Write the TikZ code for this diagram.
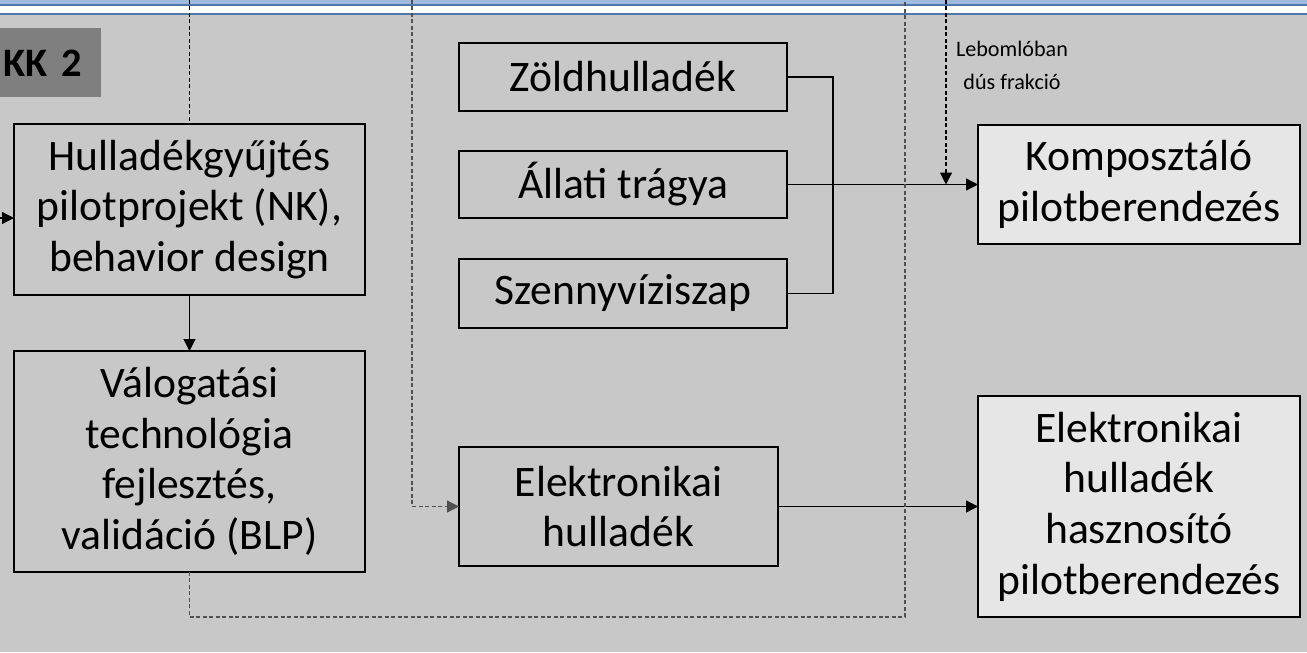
\documentclass[tikz,border=0pt]{standalone}
\usepackage{fontspec}
\setmainfont{Carlito}
\usetikzlibrary{arrows.meta}
\definecolor{bggray}{RGB}{200,200,200}
\definecolor{boxlight}{RGB}{230,230,230}
\definecolor{kkgray}{RGB}{127,127,127}
\definecolor{bandlight}{RGB}{160,186,224}
\definecolor{bandline}{RGB}{79,120,168}
\definecolor{dashgray}{RGB}{80,80,80}

\begin{document}
\begin{tikzpicture}[x=0.02cm,y=-0.02cm,
  box/.style={draw=black,line width=0.8pt,rectangle,inner sep=0pt,outer sep=0pt,align=center,font=\fontsize{24.8}{28.8}\selectfont},
  lightbox/.style={box,fill=boxlight},
  line/.style={line width=0.6pt},
  arr/.style={line width=0.6pt,-{Triangle[length=0.24cm,width=0.24cm]}},
  dashline/.style={line width=0.6pt,dash pattern=on 0.08cm off 0.05cm}]
\useasboundingbox (0,0) rectangle (1307,652);
% background and top band
\fill[bggray] (0,15) rectangle (1307,652);
\fill[bandlight] (0,0) rectangle (1307,4);
\fill[bandline] (0,4) rectangle (1307,6.5);
\fill[white] (0,6.5) rectangle (1307,13);
\fill[bandline] (0,13) rectangle (1307,15.5);
\node[fill=kkgray,anchor=north west,inner xsep=0.06cm,inner ysep=0pt,text width=1.9cm,minimum height=1.38cm,align=left,font=\fontsize{23}{26}\bfseries] (kk) at (0,28) {KK 2};
% left column
\node[box,minimum width=7.02cm,minimum height=3.42cm] (gyujt) at (189.5,209.5) {Hulladékgyűjtés\\pilotprojekt (NK),\\behavior design};
\node[box,minimum width=7.02cm,minimum height=4.42cm] (valog) at (189.5,461.5) {Válogatási\\technológia\\fejlesztés,\\validáció (BLP)};
% middle column
\node[box,minimum width=6.56cm,minimum height=1.36cm] (zold) at (623,77) {Zöldhulladék};
\node[box,minimum width=6.56cm,minimum height=1.34cm] (allati) at (623,184.5) {Állati trágya};
\node[box,minimum width=6.56cm,minimum height=1.38cm] (szenny) at (623,293.5) {Szennyvíziszap};
\node[box,minimum width=6.38cm,minimum height=2.38cm] (ehull) at (618.5,506.5) {Elektronikai\\hulladék};
% right column
\node[lightbox,minimum width=6.44cm,minimum height=2.38cm] (kompost) at (1139,184.5) {Komposztáló\\pilotberendezés};
\node[lightbox,minimum width=6.44cm,minimum height=4.42cm] (ehaszn) at (1139,506.5) {Elektronikai\\hulladék\\hasznosító\\pilotberendezés};
\node[align=center,font=\fontsize{12.6}{18.8}\selectfont] (lebom) at (1012,65) {Lebomlóban\\dús frakció};
% free ends
\coordinate (inL) at (0,218);
\coordinate (t1) at (189.5,0);
\coordinate (t2) at (412,0);
\coordinate (t3) at (905,0);
\coordinate (t4) at (946,0);
% connectors
\draw[arr] (inL) -- (inL -| gyujt.west);
\draw[arr] (gyujt.south) -- (valog.north);
\draw[line] (zold.east) -- ++(46,0) |- (szenny.east);
\draw[arr] (allati.east) -- (kompost.west);
\draw[arr] (ehull.east) -- (ehaszn.west);
\draw[dashline] (t1) -- (gyujt.north);
\draw[dashline,dashgray,arr] (t2) |- (ehull.west);
\draw[dashline,dashgray] (valog.south) -- ++(0,45) -| (t3);
\draw[dashline,arr] (t4) -- (t4 |- allati.east);
\end{tikzpicture}
\end{document}
